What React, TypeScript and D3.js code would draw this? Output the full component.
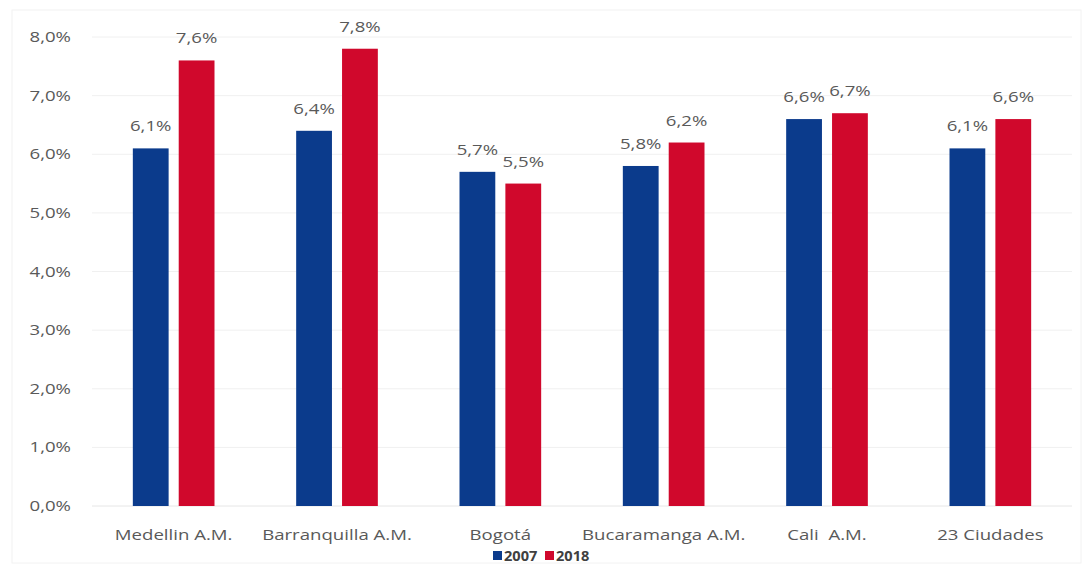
import React from "react";
import * as d3 from "d3";

const categories = ["Medellin A.M.", "Barranquilla A.M.", "Bogotá", "Bucaramanga A.M.", "Cali  A.M.", "23 Ciudades"];
const series2007 = [6.1, 6.4, 5.7, 5.8, 6.6, 6.1];
const series2018 = [7.6, 7.8, 5.5, 6.2, 6.7, 6.6];
const seriesNames = ["2007", "2018"];
const yTicks = [0, 1, 2, 3, 4, 5, 6, 7, 8];
const colors = ["#0b3b8c", "#d0082c"];

const W = 1083, H = 565;
const margin = { left: 92, right: 11, top: 37, bottom: 59 };
const SX = 1.33;
const FONT = "'Open Sans', sans-serif";
const fmt = (v: number) => v.toFixed(1).replace(".", ",") + "%";

export default function App() {
  const x0 = d3.scaleBand<string>().domain(categories).range([margin.left, W - margin.right]).paddingInner(0.5).paddingOuter(0.25);
  const x1 = d3.scaleBand<string>().domain(seriesNames).range([0, x0.bandwidth()]).paddingInner(0.22).paddingOuter(0);
  const y = d3.scaleLinear().domain([0, 8]).range([H - margin.bottom, margin.top]);
  const data = [series2007, series2018];

  const stretched = (key: string, x: number, yy: number, txt: string, anchor: string, sx: number = SX, extra: any = {}) => (
    <text key={key} transform={`translate(${x},${yy}) scale(${sx},1)`} textAnchor={anchor} fontFamily={FONT} fontSize={14} fill="#595959" style={{ whiteSpace: "pre" }} {...extra}>{txt}</text>
  );

  return (
    <svg width={W} height={H} style={{ position: "absolute", left: 0, top: 0, background: "#fff" }}>
      <rect x={12} y={10} width={W - 14} height={H - 12} fill="none" stroke="#f2f2f2" />
      {yTicks.map((t) => (
        <g key={"g" + t}>
          <line x1={margin.left} x2={W - margin.right} y1={y(t)} y2={y(t)} stroke={t === 0 ? "#e6e6e6" : "#f0f0f0"} strokeWidth={1} />
          {stretched("yt" + t, 71, y(t) + 5, fmt(t), "end")}
        </g>
      ))}
      {categories.map((c, i) => (
        <g key={c}>
          {seriesNames.map((s, j) => {
            const bx = (x0(c) as number) + (x1(s) as number);
            const v = data[j][i];
            return (
              <g key={s}>
                <rect x={bx} y={y(v)} width={x1.bandwidth()} height={y(0) - y(v)} fill={colors[j]} />
                {stretched("l" + s, bx + x1.bandwidth() / 2, y(v) - 17, fmt(v), "middle")}
              </g>
            );
          })}
          {stretched("x" + c, (x0(c) as number) + x0.bandwidth() / 2, 540, c, "middle")}
        </g>
      ))}
      <g>
        <rect x={493} y={551} width={9} height={9} fill={colors[0]} />
        {stretched("lg0", 504, 561, seriesNames[0], "start", 1.08, { fontWeight: "bold", fill: "#404040", fontSize: 13.5 })}
        <rect x={545} y={551} width={9} height={9} fill={colors[1]} />
        {stretched("lg1", 556, 561, seriesNames[1], "start", 1.08, { fontWeight: "bold", fill: "#404040", fontSize: 13.5 })}
      </g>
    </svg>
  );
}
